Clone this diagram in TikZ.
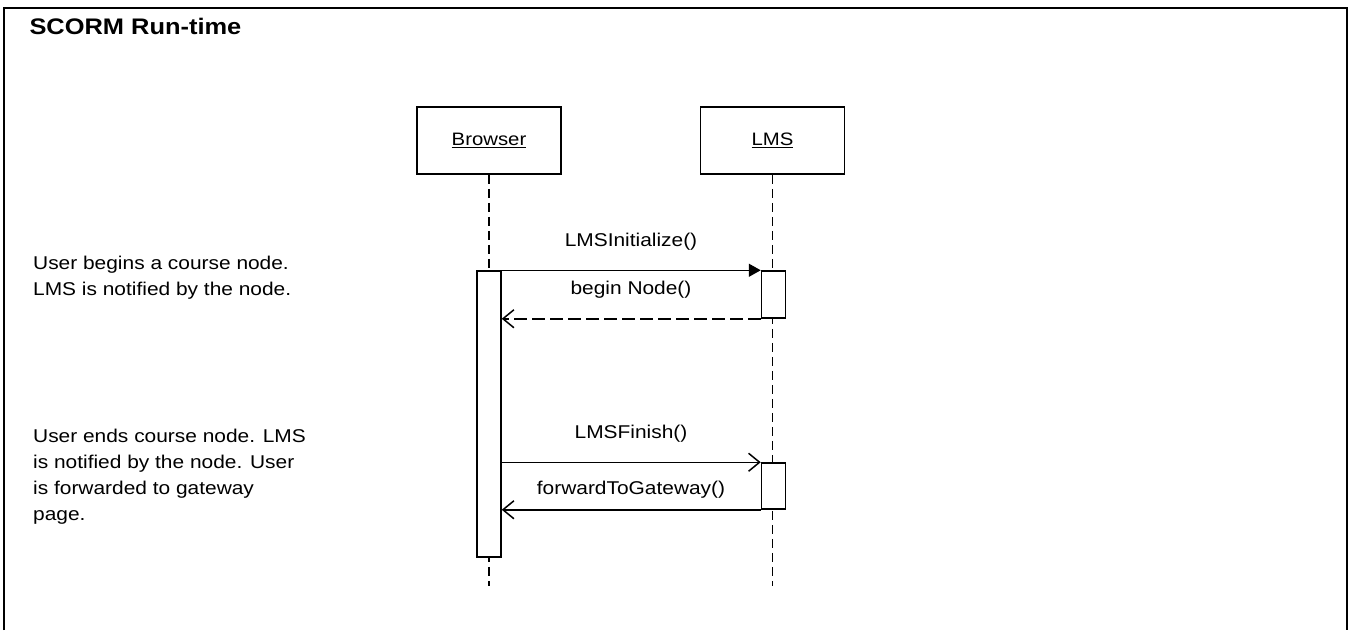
\documentclass[tikz,border=0pt]{standalone}
\usepackage{fontspec}
\setmainfont{Liberation Sans}[FakeStretch=1.13]
\usetikzlibrary{arrows.meta}

\tikzset{
    lifebox/.style={draw, line width=1.5pt, minimum width=144pt, minimum height=67pt,
        font=\fontsize{18}{22}\selectfont},
    actbar/.style={draw, line width=1.5pt, fill=white, minimum width=24pt, inner sep=0pt},
    lifeline/.style={line width=1.5pt, dash pattern=on 9pt off 5pt},
    msg/.style={font=\fontsize{18.5}{22}\selectfont},
    note/.style={anchor=west, align=left, inner sep=0pt, font=\fontsize{18.5}{26}\selectfont},
    call/.style={line width=1.5pt, -{Triangle[length=12pt,width=13pt]}},
    send/.style={line width=1.5pt, -{Straight Barb[length=11pt,width=18pt]}},
    reply/.style={send, dash pattern=on 13pt off 5pt}
}

\begin{document}
\begin{tikzpicture}[x=1pt,y=-1pt]
    \useasboundingbox (0,0) rectangle (1351,630);
    % Draw frame and title
    \draw [line width=1.8pt] (4,630) |- (1347,8) -- (1347,630);
    \node [anchor=west, font=\bfseries\fontsize{22.5}{27}\selectfont] (title) at (26,26) {SCORM Run-time};

    % Draw lifelines
    \node [lifebox] (browser) at (489,140.5) {\underline{Browser}};
    \node [lifebox] (lms) at (772.5,140.5) {\underline{LMS}};
    \coordinate (browserend) at (489,586);
    \coordinate (lmsend) at (772.5,586);
    \draw [lifeline] (browser.south) -- (browserend);
    \draw [lifeline] (lms.south) -- (lmsend);

    % Activation bars
    \node [actbar, minimum height=286pt] (browseract) at (489,414) {};
    \node [actbar, minimum height=47pt] (lmsinit) at (773.5,294.5) {};
    \node [actbar, minimum height=46pt] (lmsfinish) at (773.5,486) {};

    % Messages
    \draw [call] (browseract.north east) -- (lmsinit.north west);
    \draw [reply] (lmsinit.south west) -- (browseract.east |- lmsinit.south);
    \draw [send] (browseract.east |- lmsfinish.north) -- (lmsfinish.north west);
    \draw [send] (lmsfinish.south west) -- (browseract.east |- lmsfinish.south);
    \node [msg] (initlabel) at (631,242) {LMSInitialize()};
    \node [msg] (beginlabel) at (631,290) {begin Node()};
    \node [msg] (finishlabel) at (631,434) {LMSFinish()};
    \node [msg] (gatewaylabel) at (631,490) {forwardToGateway()};

    % Notes
    \node [note] (beginnote) at (33,278) {User begins a course node.\\LMS is notified by the node.};
    \node [note] (endnote) at (33,477) {User ends course node. LMS\\is notified by the node. User\\is forwarded to gateway\\page.};
\end{tikzpicture}
\end{document}
